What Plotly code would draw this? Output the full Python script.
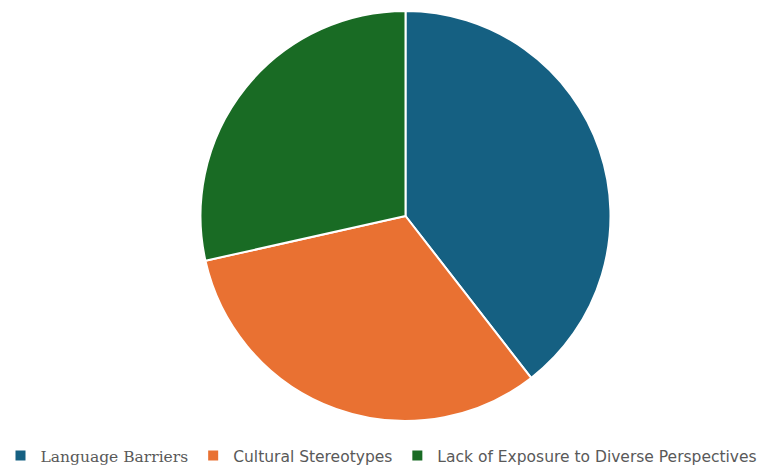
import plotly.graph_objects as go

labels = ["<span style=\"font-family:'DejaVu Serif'\">Language Barriers</span>",
          "Cultural Stereotypes",
          "Lack of Exposure to Diverse Perspectives"]
values = [39.5, 32.0, 28.5]
colors = ["#156082", "#E97132", "#196B24"]

W, H = 763, 465
cx, cy, r = 405.5, 216, 205

fig = go.Figure(go.Pie(
    labels=labels, values=values, sort=False, direction="clockwise", rotation=0,
    marker=dict(colors=colors, line=dict(color="white", width=2)),
    textinfo="none", hoverinfo="label+percent",
    domain=dict(x=[(cx - r) / W, (cx + r) / W], y=[(H - cy - r) / H, (H - cy + r) / H]),
))
fig.update_layout(
    width=W, height=H, margin=dict(l=0, r=0, t=0, b=0, autoexpand=False),
    paper_bgcolor="white", plot_bgcolor="white",
    showlegend=True,
    legend=dict(orientation="h", x=0.5, xanchor="center", y=(H - 456) / H, yanchor="middle",
                font=dict(family="DejaVu Sans", size=15.5, color="#595959"),
                itemwidth=30),
)
fig.write_html("out.html")
